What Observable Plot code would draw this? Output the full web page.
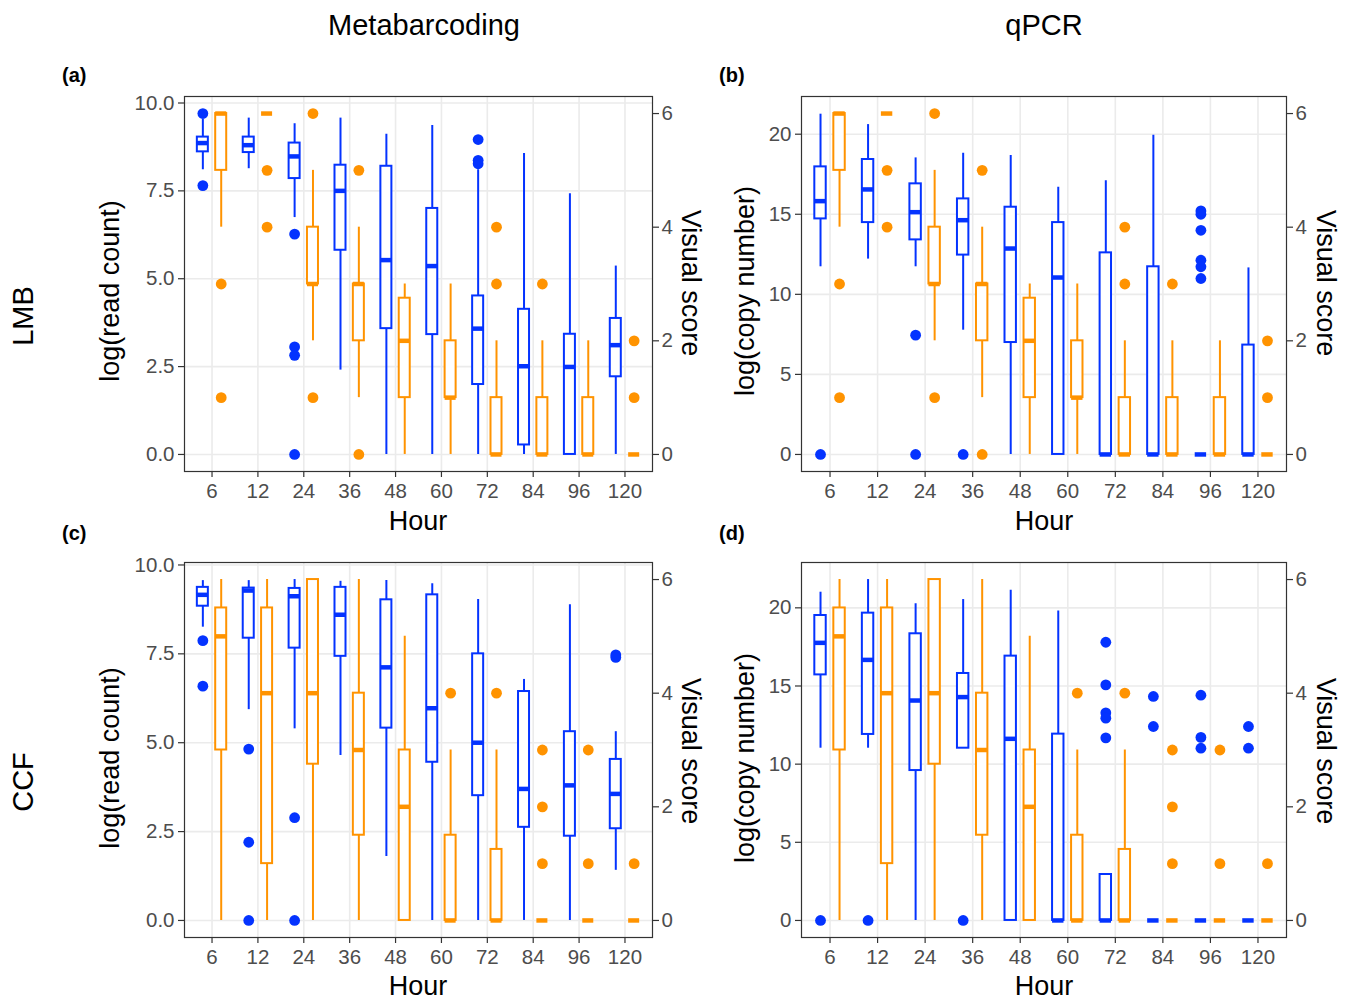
<!DOCTYPE html>
<html><head><meta charset="utf-8">
<script src="https://cdn.jsdelivr.net/npm/d3@7"></script>
<script src="https://cdn.jsdelivr.net/npm/@observablehq/plot@0.6"></script>
<style>
body{margin:0;background:#fff;}
#wrap{position:relative;width:1349px;height:999px;font-family:"Liberation Sans",Arial,sans-serif;color:#000;overflow:hidden;background:#fff}
.t{position:absolute;white-space:nowrap;line-height:1}
.c{transform:translate(-50%,-50%)}
.l{transform:translate(0,-50%)}
.rl{transform:translate(-50%,-50%) rotate(-90deg)}
.rr{transform:translate(-50%,-50%) rotate(90deg)}
#wrap svg{position:absolute}
</style></head><body><div id="wrap"></div>
<script>
// ---------- categories & tick labels ----------
const hours = [6, 12, 24, 36, 48, 60, 72, 84, 96, 120];
const ticksRead = [0, 2.5, 5, 7.5, 10];
const ticksCopy = [0, 5, 10, 15, 20];
const ticksVisual = [0, 2, 4, 6];

// ---------- box statistics: [lower whisker, Q1, median, Q3, upper whisker] per hour ----------
// (a) Metabarcoding, LMB : log(read count)
const metaLMB = [
  [8.10, 8.61, 8.86, 9.03, 9.53],
  [8.13, 8.59, 8.80, 9.03, 9.57],
  [6.74, 7.85, 8.48, 8.86, 9.41],
  [2.40, 5.81, 7.50, 8.23, 9.57],
  [0.00, 3.58, 5.53, 8.20, 9.11],
  [0.00, 3.41, 5.36, 7.00, 9.36],
  [0.00, 1.99, 3.58, 4.51, 8.10],
  [0.00, 0.27, 2.51, 4.13, 8.56],
  [0.00, 0.00, 2.49, 3.42, 7.42],
  [0.00, 2.21, 3.11, 3.87, 5.36]
];
const metaLMBOut = [[9.70, 7.65], [], [6.27, 3.06, 2.82, 0], [], [], [], [8.96, 8.37, 8.27], [], [], []];

// (b) qPCR, LMB : log(copy number)
const qpcrLMB = [
  [11.72, 14.71, 15.82, 17.96, 21.25],
  [12.20, 14.48, 16.55, 18.42, 20.60],
  [11.72, 13.40, 15.13, 16.90, 18.52],
  [7.76, 12.45, 14.63, 15.96, 18.81],
  [0.00, 6.99, 12.86, 15.44, 18.67],
  [0.00, 0.00, 11.05, 14.48, 16.69],
  [0.00, 0.00, 0.00, 12.59, 17.09],
  [0.00, 0.00, 0.00, 11.72, 19.94],
  [0.00, 0.00, 0.00, 0.00, 0.00],
  [0.00, 0.00, 0.00, 6.83, 11.65]
];
const qpcrLMBOut = [[0], [], [7.45, 0], [0], [], [], [], [], [15.21, 15.0, 14.0, 12.13, 11.72, 10.99], []];

// (c) Metabarcoding, CCF : log(read count)
const metaCCF = [
  [8.25, 8.84, 9.16, 9.37, 9.56],
  [5.93, 7.94, 9.28, 9.35, 9.56],
  [5.39, 7.66, 9.12, 9.34, 9.59],
  [4.64, 7.43, 8.60, 9.37, 9.54],
  [1.80, 5.41, 7.12, 9.02, 9.56],
  [0.00, 4.45, 5.97, 9.16, 9.47],
  [0.00, 3.51, 5.00, 7.50, 9.03],
  [0.00, 2.62, 3.70, 6.44, 6.78],
  [0.00, 2.37, 3.80, 5.31, 8.88],
  [1.41, 2.58, 3.56, 4.53, 5.31]
];
const metaCCFOut = [[7.87, 6.59], [4.82, 2.20, 0], [2.89, 0], [], [], [], [], [], [], [7.47, 7.40]];

// (d) qPCR, CCF : log(copy number)
const qpcrCCF = [
  [11.02, 15.71, 17.76, 19.51, 21.00],
  [11.02, 11.90, 16.67, 19.66, 21.81],
  [0.00, 9.59, 14.07, 18.34, 20.26],
  [11.02, 11.02, 14.29, 15.80, 20.53],
  [0.00, 0.00, 11.62, 16.91, 21.13],
  [0.00, 0.00, 0.00, 11.92, 19.79],
  [0.00, 0.00, 0.00, 2.94, 2.94],
  [0, 0, 0, 0, 0],
  [0, 0, 0, 0, 0],
  [0, 0, 0, 0, 0]
];
const qpcrCCFOut = [[0], [0], [], [0], [], [], [17.8, 15.07, 13.28, 12.94, 11.68], [14.33, 12.41], [14.41, 11.71, 11.02], [12.41, 11.02]];

// Visual score (secondary axis), LMB and CCF
const visLMB = [
  [4, 5, 6, 6, 6],
  [6, 6, 6, 6, 6],
  [2, 3, 3, 4, 5],
  [1, 2, 3, 3, 4],
  [0, 1, 2, 2.75, 3],
  [0, 1, 1, 2, 3],
  [0, 0, 0, 1, 2],
  [0, 0, 0, 1, 2],
  [0, 0, 0, 1, 2],
  [0, 0, 0, 0, 0]
];
const visLMBOut = [[3, 1], [5, 4], [6, 1], [5, 0], [], [], [4, 3], [3], [], [2, 1]];
const visCCF = [
  [0, 3, 5, 5.5, 6],
  [0, 1, 4, 5.5, 6],
  [0, 2.75, 4, 6, 6],
  [0, 1.5, 3, 4, 6],
  [0, 0, 2, 3, 5],
  [0, 0, 0, 1.5, 3],
  [0, 0, 0, 1.25, 3],
  [0, 0, 0, 0, 0],
  [0, 0, 0, 0, 0],
  [0, 0, 0, 0, 0]
];
const visCCFOut = [[], [], [], [], [], [4], [4], [3, 2, 1], [3, 1], [1]];

// Log value that corresponds to a visual score of 6 in each panel (secondary-axis mapping)
const visTop = {a: 9.70, b: 21.29, c: 9.59, d: 21.81};

// ---------- drawing ----------
const BLUE = "#0433FF", ORANGE = "#FF9300";
const FONT = '"Liberation Sans", Arial, sans-serif';

function toRows(stats, f) {
  return stats.map((s, i) => ({i, lo: s[0] * f, q1: s[1] * f, med: s[2] * f, q3: s[3] * f, hi: s[4] * f}));
}
function toOut(outs, f) {
  return outs.flatMap((vs, i) => vs.map(v => ({i, v: v * f})));
}
function boxMarks(rows, outs, off, color) {
  const bw = 0.24;
  return [
    Plot.ruleX(rows, {x: d => d.i + off, y1: "lo", y2: "hi", stroke: color, strokeWidth: 2}),
    Plot.rect(rows, {x1: d => d.i + off - bw / 2, x2: d => d.i + off + bw / 2, y1: "q1", y2: "q3",
      fill: "white", stroke: color, strokeWidth: 2}),
    Plot.ruleY(rows, {y: "med", x1: d => d.i + off - bw / 2, x2: d => d.i + off + bw / 2, stroke: color, strokeWidth: 4.5}),
    Plot.dot(outs, {x: d => d.i + off, y: "v", r: 5.4, fill: color, stroke: "none"})
  ];
}

const wrap = document.getElementById("wrap");
function panel({left, top, fw, stats, outs, vis, visOut, top6, ticks, fmt}) {
  const k = top6 / 6;
  const fh = 375, mL = 89, mR = 70, mT = 10, mB = 42;
  const svg = Plot.plot({
    width: mL + fw + mR, height: mT + fh + mB,
    marginLeft: mL, marginRight: mR, marginTop: mT, marginBottom: mB,
    x: {domain: [-0.6, hours.length - 0.4]},
    y: {domain: [-0.05 * top6, 1.05 * top6]},
    style: {fontFamily: FONT, fontSize: "20.5px", background: "transparent", overflow: "visible"},
    marks: [
      Plot.gridX(d3.range(hours.length), {stroke: "#EBEBEB", strokeOpacity: 1, strokeWidth: 1.6}),
      Plot.gridY(ticks, {stroke: "#EBEBEB", strokeOpacity: 1, strokeWidth: 1.6}),
      ...boxMarks(toRows(stats, 1), toOut(outs, 1), -0.2, BLUE),
      ...boxMarks(toRows(vis, k), toOut(visOut, k), 0.2, ORANGE),
      Plot.frame({stroke: "#333333", strokeWidth: 1.2}),
      Plot.axisX(d3.range(hours.length), {tickFormat: i => String(hours[i]), tickSize: 6, tickPadding: 6,
        stroke: "#333333", fill: "#4D4D4D", strokeWidth: 1.2, label: null}),
      Plot.axisY(ticks, {anchor: "left", tickFormat: fmt, tickSize: 6, tickPadding: 4,
        stroke: "#333333", fill: "#4D4D4D", strokeWidth: 1.2, label: null}),
      Plot.axisY(ticksVisual.map(v => v * k), {anchor: "right", tickFormat: d => String(Math.round(d / k)),
        tickSize: 6, tickPadding: 3, stroke: "#333333", fill: "#4D4D4D", strokeWidth: 1.2, label: null})
    ]
  });
  svg.style.left = (left - mL) + "px";
  svg.style.top = (top - mT) + "px";
  wrap.appendChild(svg);
}

const f1 = d3.format(".1f");
const f0 = d => String(d);
panel({left: 184, top: 96, fw: 468, stats: metaLMB, outs: metaLMBOut, vis: visLMB, visOut: visLMBOut, top6: visTop.a, ticks: ticksRead, fmt: f1});
panel({left: 801, top: 96, fw: 485, stats: qpcrLMB, outs: qpcrLMBOut, vis: visLMB, visOut: visLMBOut, top6: visTop.b, ticks: ticksCopy, fmt: f0});
panel({left: 184, top: 562, fw: 468, stats: metaCCF, outs: metaCCFOut, vis: visCCF, visOut: visCCFOut, top6: visTop.c, ticks: ticksRead, fmt: f1});
panel({left: 801, top: 562, fw: 485, stats: qpcrCCF, outs: qpcrCCFOut, vis: visCCF, visOut: visCCFOut, top6: visTop.d, ticks: ticksCopy, fmt: f0});

function label(text, x, y, cls, size, weight) {
  const d = document.createElement("div");
  d.className = "t " + cls;
  d.textContent = text;
  d.style.left = x + "px"; d.style.top = y + "px";
  d.style.fontSize = size + "px";
  if (weight) d.style.fontWeight = weight;
  wrap.appendChild(d);
}
label("Metabarcoding", 424, 25, "c", 29);
label("qPCR", 1044, 25, "c", 29);
label("LMB", 23, 316, "rl", 29);
label("CCF", 23, 782, "rl", 29);
label("(a)", 62, 75, "l", 20, "bold");
label("(b)", 719, 75, "l", 20, "bold");
label("(c)", 62, 533, "l", 20, "bold");
label("(d)", 719, 533, "l", 20, "bold");
[["log(read count)", 110, 291], ["log(copy number)", 745, 291], ["log(read count)", 110, 758], ["log(copy number)", 745, 758]]
  .forEach(([t, x, y]) => label(t, x, y, "rl", 27));
[[690, 283], [1325, 283], [690, 751], [1325, 751]].forEach(([x, y]) => label("Visual score", x, y, "rr", 27));
[[418, 521], [1044, 521], [418, 986], [1044, 986]].forEach(([x, y]) => label("Hour", x, y, "c", 27));
</script></body></html>
